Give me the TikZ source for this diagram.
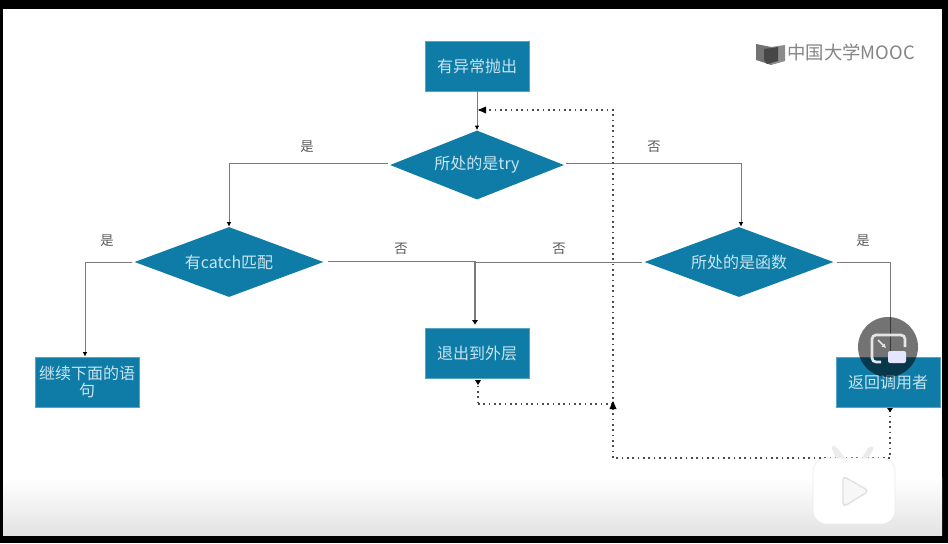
\documentclass[tikz,border=0pt]{standalone}
\usepackage{fontspec}
\setmainfont{Noto Sans CJK SC}
\usetikzlibrary{shapes.geometric,arrows.meta,calc}
\definecolor{boxblue}{HTML}{0F7CA8}
\definecolor{boxtext}{HTML}{C8E4EE}
\definecolor{linegray}{HTML}{7A7A7A}
\tikzset{
  boxnode/.style={draw=boxblue!70!white,line width=0.5pt,fill=boxblue,text=boxtext,minimum width=78pt,minimum height=37.5pt,inner sep=1pt,font=\fontsize{12}{14}\selectfont,align=center},
  decision/.style={diamond,fill=boxblue,text=boxtext,aspect=2.7,inner sep=0pt,font=\fontsize{12}{14}\selectfont},
  solidline/.style={draw=linegray,line width=0.75pt,-{Latex[length=3.5pt,width=3.5pt,color=black]}},
  plainline/.style={draw=linegray,line width=0.75pt},
  dotline/.style={draw=black!70,line width=1pt,dash pattern=on 1.2pt off 2.8pt},
  lab/.style={text=black!65,font=\fontsize{10}{12}\selectfont,inner sep=0pt}
}
\begin{document}
\begin{tikzpicture}[x=0.75pt,y=-0.75pt]
\useasboundingbox (0,0) rectangle (948,543);
\fill[black] (0,0) rectangle (948,543);
\fill[white] (3,9) rectangle (942,535);
\shade[top color=white,bottom color=black!11] (3,478) rectangle (942,535);

\node[boxnode] (raise) at (477,66) {有异常抛出};
\node[decision,minimum width=130.5pt,minimum height=51.75pt] (try) at (477,165) {所处的是try};
\node[decision,minimum width=141.75pt,minimum height=52.5pt] (catch) at (229,262) {有catch匹配};
\node[decision,minimum width=141.75pt,minimum height=52.5pt] (func) at (739,262) {所处的是函数};
\node[boxnode] (outer) at (477,353) {退出到外层};
\node[boxnode] (cont) at (87,382) {继续下面的语\\[-1pt]句};
\node[boxnode] (ret) at (888,382) {返回调用者};

\coordinate (mid) at (475,262);
\coordinate (back) at (613,404);
\coordinate (up) at (613,110);
\coordinate (low) at (613,458);
\coordinate (retdown) at (890,458);
\coordinate (outdown) at (478,404);
\coordinate (tryin) at (478,110);

\draw[solidline] (raise.south) -- (try.north);
\draw[solidline] ($(try.west)+(-2,-2)$) -| (catch.north);
\draw[solidline] ($(try.east)+(2,-2)$) -| ($(func.north)+(2,0)$);
\draw[solidline] ($(catch.west)+(-2,0)$) -| ($(cont.north)+(-2,0)$);
\draw[plainline] ($(catch.east)+(4,-1)$) -- ($(mid)+(0,-1)$);
\draw[plainline] ($(func.west)+(-2,0)$) -- (mid);
\draw[draw=linegray,line width=1.8pt,-{Latex[length=3.5pt,width=5pt,color=black]}] ($(mid)+(0,-1)$) -- ($(outer.north)+(-2,-3)$);
\draw[plainline] ($(func.east)+(3,0)$) -| ($(ret.north)+(2,0)$);

\draw[dotline] (retdown) -- (low) -- (back);
\draw[dotline] (back) -- (up) -- (tryin);
\draw[dotline] (outdown) -- (back);
\draw[dotline] ($(outer.south)+(1,2)$) -- (outdown);
\draw[dotline] ($(ret.south)+(2,3)$) -- (retdown);
\fill[black] (613,401) -- (609.5,409) -- (616.5,409) -- cycle;
\fill[black] (478,110) -- (486,106.5) -- (486,113.5) -- cycle;
\fill[black] (478,385) -- (475,380) -- (481,380) -- cycle;
\fill[black] (890,412) -- (887,408) -- (893,408) -- cycle;

\node[lab] (l1) at (307,147) {是};
\node[lab] (l2) at (654,147) {否};
\node[lab] (l3) at (107,241) {是};
\node[lab] (l4) at (401,249) {否};
\node[lab] (l5) at (559,249) {否};
\node[lab] (l6) at (863,241) {是};

% logo
\fill[black!55] (756,44) -- (771,47) -- (771,65) -- (756,60) -- cycle;
\fill[black!45] (771,47) -- (785,45) -- (785,61) -- (771,65) -- cycle;
\fill[black!72] (764,49) -- (778,47) -- (778,61) -- (767,64) -- (764,60) -- cycle;
\node[text=black!48,inner sep=0pt,anchor=west,font=\fontsize{13.8}{16}\selectfont] (logo) at (787,52) {中国大学MOOC};

% picture-in-picture overlay
\fill[black,opacity=.55] (888,347) circle (30);
\draw[white!90!black,line width=2pt,rounded corners=3pt] (881,362) -- (872,362) -- (872,335) -- (905,335) -- (905,347);
\fill[white!90!blue,rounded corners=1.5pt] (888,351) rectangle (906,363);
\draw[white!90!black,line width=1.3pt,-{Latex[length=3pt,width=3.5pt]}] (878,340) -- (886,348);

% video-site badge
\fill[white!92!black] (836,458) -- (832,449) .. controls (830,445) and (835,445) .. (837,448) -- (845,458) -- cycle;
\fill[white!92!black] (862,458) -- (868,448) .. controls (871,445) and (875,447) .. (873,450) -- (868,458) -- cycle;
\fill[white,draw=black!8,line width=0.5pt,rounded corners=10pt] (813,458) rectangle (895,524);
\draw[black!12,fill=white!97!black,line width=1pt,line join=round,rounded corners=3pt] (843,476) -- (869,491) -- (843,507) -- cycle;
\end{tikzpicture}
\end{document}
